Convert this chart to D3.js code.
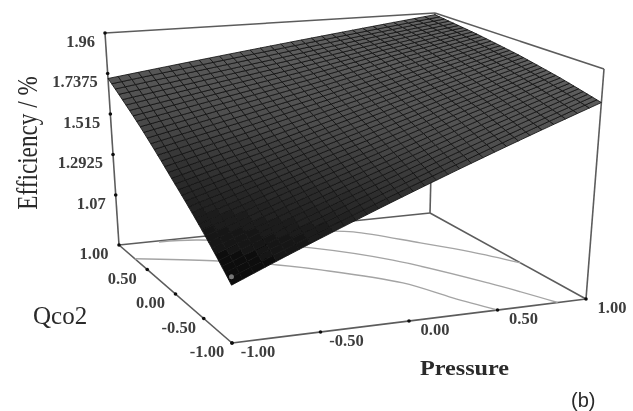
<!DOCTYPE html>
<html>
<head>
<meta charset="utf-8">
<script src="https://cdn.jsdelivr.net/npm/d3@7"></script>
<style>
  html, body { margin: 0; padding: 0; background: #fff; }
  text { font-family: "Liberation Serif", serif; fill: #2a2a2a; }
</style>
</head>
<body>
<script>
// values
var pressureTicks = [-1, -0.5, 0, 0.5, 1];
var qco2Ticks = [-1, -0.5, 0, 0.5, 1];
var efficiencyTicks = [1.07, 1.2925, 1.515, 1.7375, 1.96];
var efficiencyBottom = 0.795;

// efficiency at pressureTicks (columns) and qco2Ticks (rows)
var efficiency = [
  [1.07, 1.25, 1.43, 1.61, 1.79],
  [1.23, 1.38, 1.53, 1.69, 1.84],
  [1.385, 1.50, 1.63, 1.76, 1.884],
  [1.55, 1.64, 1.73, 1.83, 1.92],
  [1.71, 1.77, 1.83, 1.89, 1.95]
];

// contour lines on the floor, [pressure, qco2]
var contour1 = [[0, 0.97], [0.24, 0.87], [0.41, 0.79], [0.67, 0.44], [0.85, 0.16], [1, -0.16]];
var contour2 = [[-0.75, 0.98], [-0.51, 0.94], [0.05, 0.57], [0.38, 0.17], [0.67, -0.47], [0.84, -1]];
var contour3 = [[-1, 0.72], [-0.58, 0.53], [-0.26, 0.32], [-0.07, 0.14], [0.25, -0.28], [0.38, -0.67], [0.5, -1]];
var designPoint = [-1, -1, 1.11];

// box corners on the page, [x, y]
var w = 633, h = 411;
var floorFront = [232, 343], floorRight = [586, 299], floorLeft = [119, 245], floorBack = [430, 213];
var topFront = [230, 98], topRight = [604, 69], topLeft = [105, 33], topBack = [435, 13];

var meshP = 32, meshQ = 36; // number of mesh cells each way

var px = d3.scaleLinear().domain([-1, 1]).range([0, 1]);
var qy = d3.scaleLinear().domain([-1, 1]).range([0, 1]);
var zt = d3.scaleLinear().domain([efficiencyBottom, 1.96]).range([0, 1]);
var shade = d3.scaleLinear()
  .domain([1.07, 1.2, 1.4, 1.6, 1.95])
  .range(["#080808", "#141414", "#2e2e2e", "#4e4e4e", "#666666"]);

function corner(a, b, c, d, u, v) {
  return [
    a[0] * (1 - u) * (1 - v) + b[0] * u * (1 - v) + c[0] * (1 - u) * v + d[0] * u * v,
    a[1] * (1 - u) * (1 - v) + b[1] * u * (1 - v) + c[1] * (1 - u) * v + d[1] * u * v
  ];
}

// pressure, qco2, efficiency to page position
function project(p, q, z) {
  var u = px(p), v = qy(q), t = zt(z);
  var f = corner(floorFront, floorRight, floorLeft, floorBack, u, v);
  var c = corner(topFront, topRight, topLeft, topBack, u, v);
  return [f[0] + (c[0] - f[0]) * t, f[1] + (c[1] - f[1]) * t];
}

// mesh height inside one patch of the table
function heightAt(p, q) {
  var i = Math.min(Math.floor((p + 1) * 2), 3), j = Math.min(Math.floor((q + 1) * 2), 3);
  var a = (p - pressureTicks[i]) * 2, b = (q - qco2Ticks[j]) * 2;
  return efficiency[j][i] * (1 - a) * (1 - b) + efficiency[j][i + 1] * a * (1 - b) +
    efficiency[j + 1][i] * (1 - a) * b + efficiency[j + 1][i + 1] * a * b;
}

var svg = d3.select("body").append("svg")
  .attr("width", w)
  .attr("height", h)
  .style("display", "block");

svg.append("filter").attr("id", "soft")
  .append("feGaussianBlur").attr("stdDeviation", 0.45);

var chart = svg.append("g").attr("filter", "url(#soft)");
var line = d3.line();
var bottom = efficiencyBottom, top1 = efficiencyTicks[4];

// box edges
var edges = [
  [[-1, 1, bottom], [-1, 1, top1]],
  [[-1, 1, top1], [1, 1, top1]],
  [[1, 1, top1], [1, -1, top1]],
  [[1, -1, top1], [1, -1, bottom]],
  [[1, 1, bottom], [1, 1, top1]],
  [[-1, 1, bottom], [1, 1, bottom]],
  [[1, 1, bottom], [1, -1, bottom]],
  [[-1, 1, bottom], [-1, -1, bottom]],
  [[-1, -1, bottom], [1, -1, bottom]]
];
chart.selectAll(".edge")
  .data(edges)
  .enter().append("path")
    .attr("class", "edge")
    .attr("d", function(d) { return line(d.map(function(e) { return project(e[0], e[1], e[2]); })); })
    .attr("fill", "none")
    .attr("stroke", "#5c5c5c")
    .attr("stroke-width", 1.6);

var contourLine = d3.line().curve(d3.curveCatmullRom.alpha(0.5));
chart.selectAll(".contour")
  .data([contour1, contour2, contour3])
  .enter().append("path")
    .attr("class", "contour")
    .attr("d", function(d) { return contourLine(d.map(function(e) { return project(e[0], e[1], bottom); })); })
    .attr("fill", "none")
    .attr("stroke", "#a4a4a4")
    .attr("stroke-width", 1.4);

// surface mesh
var cells = [];
for (var j = 0; j < meshQ; j++) {
  for (var i = 0; i < meshP; i++) {
    cells.push({
      p0: -1 + 2 * i / meshP, p1: -1 + 2 * (i + 1) / meshP,
      q0: -1 + 2 * j / meshQ, q1: -1 + 2 * (j + 1) / meshQ
    });
  }
}
chart.selectAll(".cell")
  .data(cells)
  .enter().append("path")
    .attr("class", "cell")
    .attr("d", function(d) {
      return line([[d.p0, d.q0], [d.p1, d.q0], [d.p1, d.q1], [d.p0, d.q1]].map(function(e) {
        return project(e[0], e[1], heightAt(e[0], e[1]));
      })) + "Z";
    })
    .attr("fill", function(d) { return shade(heightAt((d.p0 + d.p1) / 2, (d.q0 + d.q1) / 2)); })
    .attr("stroke", "#141414")
    .attr("stroke-width", 0.85);

chart.append("circle")
  .attr("cx", project(designPoint[0], designPoint[1], designPoint[2])[0])
  .attr("cy", project(designPoint[0], designPoint[1], designPoint[2])[1])
  .attr("r", 2.5)
  .attr("fill", "#777");

// tick dots and labels
var ticks = [];
efficiencyTicks.forEach(function(z) {
  ticks.push({ at: project(-1, 1, z), label: String(z), dx: -10, dy: 8, anchor: "end" });
});
qco2Ticks.forEach(function(q) {
  ticks.push({ at: project(-1, q, bottom), label: q.toFixed(2), dx: -25, dy: 8.5, anchor: "middle" });
});
pressureTicks.forEach(function(p) {
  ticks.push({ at: project(p, -1, bottom), label: p.toFixed(2), dx: 26, dy: 8, anchor: "middle" });
});

chart.selectAll(".tick")
  .data(ticks)
  .enter().append("circle")
    .attr("class", "tick")
    .attr("cx", function(d) { return d.at[0]; })
    .attr("cy", function(d) { return d.at[1]; })
    .attr("r", 1.8)
    .attr("fill", "#111");

chart.selectAll(".label")
  .data(ticks)
  .enter().append("text")
    .attr("class", "label")
    .attr("x", function(d) { return d.at[0] + d.dx; })
    .attr("y", function(d) { return d.at[1] + d.dy; })
    .attr("dy", "0.35em")
    .attr("text-anchor", function(d) { return d.anchor; })
    .attr("font-size", 16.5)
    .attr("font-weight", "bold")
    .style("fill", "#3c3c3c")
    .text(function(d) { return d.label; });

// the axis titles are stretched in the reference, hence the scale()
chart.append("text")
  .attr("transform", "translate(37,143)rotate(-90)scale(0.8,1)")
  .attr("text-anchor", "middle")
  .attr("font-size", 29)
  .text("Efficiency / %");

chart.append("text")
  .attr("x", 33)
  .attr("y", 324)
  .attr("font-size", 25)
  .text("Qco2");

chart.append("text")
  .attr("transform", "translate(420,375)scale(1.1,1)")
  .attr("font-size", 22)
  .attr("font-weight", "bold")
  .text("Pressure");

chart.append("text")
  .attr("x", 571)
  .attr("y", 407)
  .attr("font-size", 20)
  .style("font-family", "'Liberation Sans', sans-serif")
  .text("(b)");
</script>
</body>
</html>
